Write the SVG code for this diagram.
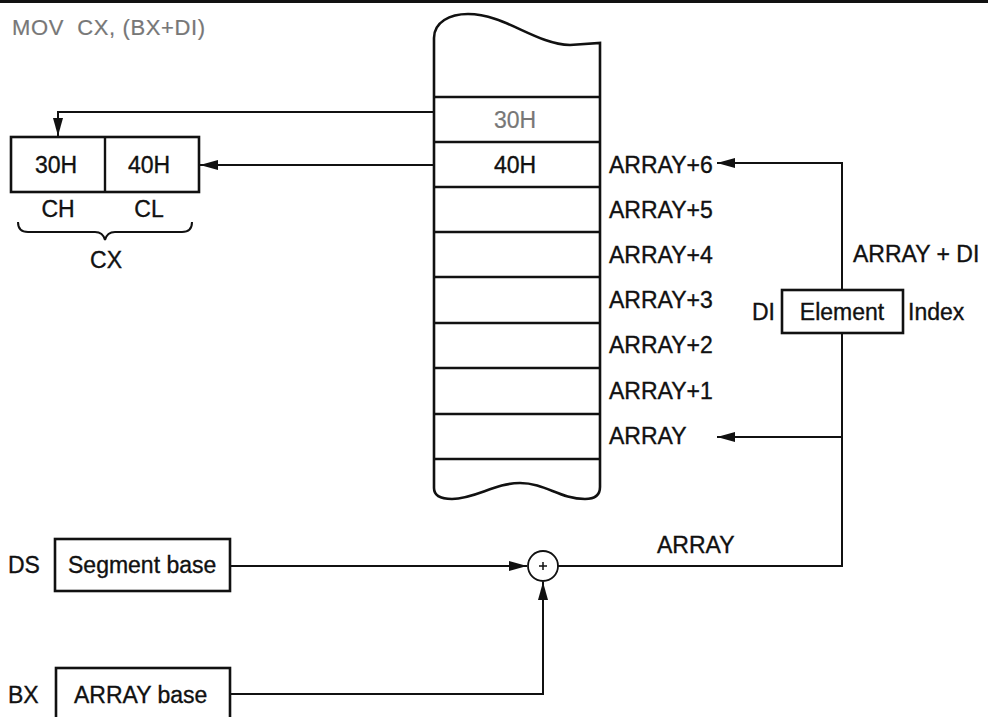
<svg xmlns="http://www.w3.org/2000/svg" width="988" height="717" viewBox="0 0 988 717">
<style>
text{font-family:"Liberation Sans",Arial,sans-serif;font-size:23px;fill:#111;stroke:#111;stroke-width:0.35}
.box{fill:#fff;stroke:#111;stroke-width:2.6}
.cell{stroke:#111;stroke-width:2.4}
.wire{fill:none;stroke:#111;stroke-width:2}
.gray{fill:#777;stroke:#777}
.mid{text-anchor:middle}
</style>
<defs>
<marker id="ah" viewBox="0 -6 18 12" refX="18" refY="0" markerWidth="18" markerHeight="12" markerUnits="userSpaceOnUse" orient="auto">
<path d="M0,-5 L18,0 L0,5 Z" fill="#111"/>
</marker>
</defs>
<line x1="0" y1="1.5" x2="988" y2="1.5" stroke="#111" stroke-width="3"/>
<text x="12" y="35" class="gray" xml:space="preserve" style="font-size:22px;letter-spacing:0.6px;stroke-width:0.2">MOV  CX, (BX+DI)</text>

<g id="memory">
<path class="box" d="M434,38 C434,22 450,14 468,14 C505,14 535,44 570,45 L600,43 L600,487 Q600,499 585,499 C560,499 545,483 520,483 C495,483 475,499 452,499 Q434,499 434,488 Z"/>
<line class="cell" x1="434" y1="97" x2="600" y2="97"/>
<line class="cell" x1="434" y1="142" x2="600" y2="142"/>
<line class="cell" x1="434" y1="187" x2="600" y2="187"/>
<line class="cell" x1="434" y1="232" x2="600" y2="232"/>
<line class="cell" x1="434" y1="277" x2="600" y2="277"/>
<line class="cell" x1="434" y1="323" x2="600" y2="323"/>
<line class="cell" x1="434" y1="368" x2="600" y2="368"/>
<line class="cell" x1="434" y1="414" x2="600" y2="414"/>
<line class="cell" x1="434" y1="459" x2="600" y2="459"/>
<text x="515" y="128" class="mid gray" style="stroke-width:0.2">30H</text>
<text x="515" y="173" class="mid">40H</text>
<text x="609" y="173">ARRAY+6</text>
<text x="609" y="218">ARRAY+5</text>
<text x="609" y="263">ARRAY+4</text>
<text x="609" y="308">ARRAY+3</text>
<text x="609" y="353">ARRAY+2</text>
<text x="609" y="399">ARRAY+1</text>
<text x="609" y="444">ARRAY</text>
</g>

<g id="cx-register">
<rect class="box" x="11" y="137" width="188" height="55"/>
<line class="cell" x1="105" y1="137" x2="105" y2="192"/>
<text x="56" y="173" class="mid">30H</text>
<text x="149" y="173" class="mid">40H</text>
<text x="58" y="217" class="mid">CH</text>
<text x="149" y="217" class="mid">CL</text>
<path class="wire" d="M18,222 Q18,232 28,232 L95,232 Q103,232 105,240 Q107,232 115,232 L182,232 Q192,232 192,222"/>
<text x="106" y="268" class="mid">CX</text>
</g>

<g id="di-box">
<rect class="box" x="782" y="290" width="121" height="43"/>
<text x="842" y="320" class="mid">Element</text>
<text x="752" y="320">DI</text>
<text x="908" y="320">Index</text>
</g>

<g id="ds-box">
<rect class="box" x="55" y="539" width="175" height="52"/>
<text x="68" y="573">Segment base</text>
<text x="8" y="573">DS</text>
</g>

<g id="bx-box">
<rect class="box" x="56" y="668" width="174" height="55"/>
<text x="74" y="703">ARRAY base</text>
<text x="8" y="703">BX</text>
</g>

<g id="adder">
<circle cx="543" cy="566" r="15" fill="#fff" stroke="#111" stroke-width="1.8"/>
<path d="M539,566 H547 M543,562 V570" stroke="#111" stroke-width="1.5"/>
</g>

<g id="connectors">
<path class="wire" d="M434,112 H58 V136" marker-end="url(#ah)"/>
<path class="wire" d="M434,165 H200" marker-end="url(#ah)"/>
<path class="wire" d="M842,290 V163 H717" marker-end="url(#ah)"/>
<path class="wire" d="M842,333 V566 H558"/>
<path class="wire" d="M842,437 H717" marker-end="url(#ah)"/>
<path class="wire" d="M230,566 H527" marker-end="url(#ah)"/>
<path class="wire" d="M230,694 H543 V582" marker-end="url(#ah)"/>
</g>

<g id="edge-labels">
<text x="853" y="262">ARRAY + DI</text>
<text x="657" y="553">ARRAY</text>
</g>
</svg>
